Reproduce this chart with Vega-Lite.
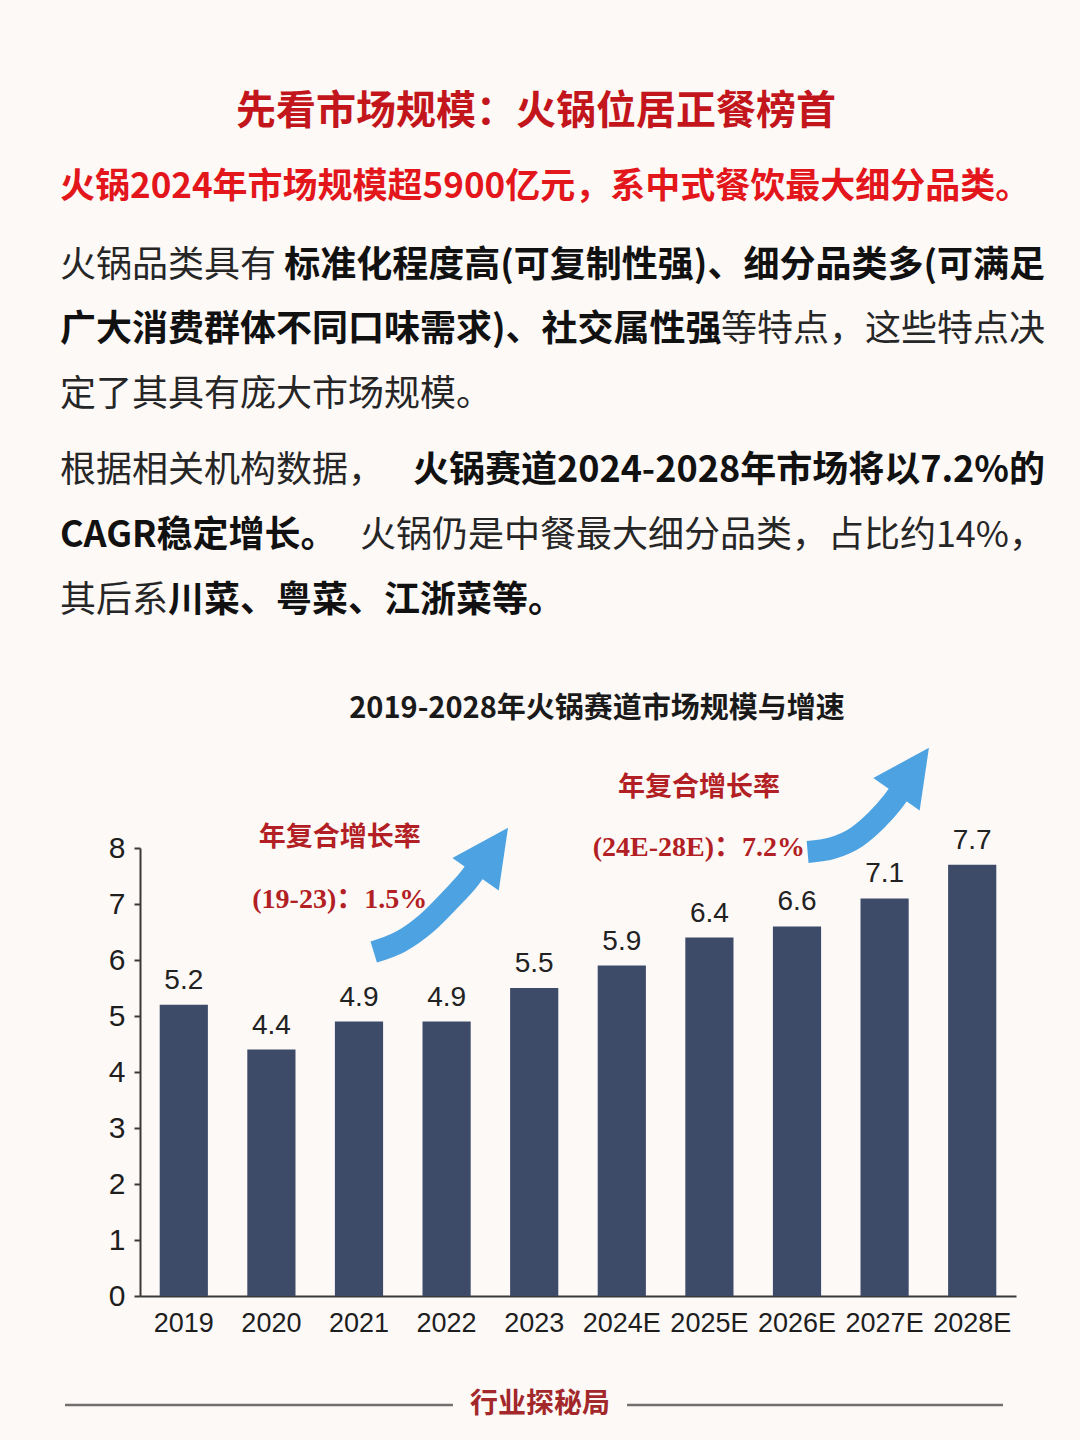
{
  "$schema": "https://vega.github.io/schema/vega-lite/v6.json",
  "padding": 0,
  "background": "#fdf9f7",
  "bounds": "flush",
  "spacing": 0,
  "config": {"view": {"stroke": null}, "axis": {"grid": false}},
  "datasets": {
    "copy": [
      {"block": "head", "line": 1, "part": "center", "emphasis": "strong", "text": "先看市场规模：火锅位居正餐榜首"},
      {"block": "head", "line": 2, "part": "start", "emphasis": "strong", "text": "火锅2024年市场规模超5900亿元，系中式餐饮最大细分品类。"},
      {"block": "p1", "line": 1, "part": "start", "emphasis": "plain", "text": "火锅品类具有"},
      {"block": "p1", "line": 1, "part": "end", "emphasis": "strong", "text": "标准化程度高(可复制性强)、细分品类多(可满足"},
      {"block": "p1", "line": 2, "part": "start", "emphasis": "strong", "text": "广大消费群体不同口味需求)、社交属性强"},
      {"block": "p1", "line": 2, "part": "end", "emphasis": "plain", "text": "等特点，这些特点决"},
      {"block": "p1", "line": 3, "part": "start", "emphasis": "plain", "text": "定了其具有庞大市场规模。"},
      {"block": "p2", "line": 1, "part": "start", "emphasis": "plain", "text": "根据相关机构数据，"},
      {"block": "p2", "line": 1, "part": "end", "emphasis": "strong", "text": "火锅赛道2024-2028年市场将以7.2%的"},
      {"block": "p2", "line": 2, "part": "start", "emphasis": "strong", "text": "CAGR稳定增长。"},
      {"block": "p2", "line": 2, "part": "end", "emphasis": "plain", "text": "火锅仍是中餐最大细分品类，占比约14%，"},
      {"block": "p2", "line": 3, "part": "start", "emphasis": "plain", "text": "其后系"},
      {"block": "p2", "line": 3, "part": "start", "emphasis": "strong", "follows": true, "text": "川菜、粤菜、江浙菜等。"}
    ],
    "market": [
      {"year": "2019", "size": 5.2},
      {"year": "2020", "size": 4.4},
      {"year": "2021", "size": 4.9},
      {"year": "2022", "size": 4.9},
      {"year": "2023", "size": 5.5},
      {"year": "2024E", "size": 5.9},
      {"year": "2025E", "size": 6.4},
      {"year": "2026E", "size": 6.6},
      {"year": "2027E", "size": 7.1},
      {"year": "2028E", "size": 7.7}
    ],
    "notes": [
      {"period": "19-23", "row": "title", "text": "年复合增长率", "pos": 2.28, "size": 8.18},
      {"period": "19-23", "row": "rate", "text": "(19-23)：1.5%", "pos": 2.28, "size": 7.07},
      {"period": "24E-28E", "row": "title", "text": "年复合增长率", "pos": 6.38, "size": 9.07},
      {"period": "24E-28E", "row": "rate", "text": "(24E-28E)：7.2%", "pos": 6.38, "size": 8.0}
    ],
    "arrows": [
      {"period": "19-23", "step": 1, "pos": 2.668, "size": 6.143},
      {"period": "19-23", "step": 2, "pos": 2.966, "size": 6.321},
      {"period": "19-23", "step": 3, "pos": 3.274, "size": 6.661},
      {"period": "19-23", "step": 4, "pos": 3.537, "size": 7.071},
      {"period": "19-23", "step": 5, "pos": 3.765, "size": 7.464},
      {"period": "19-23", "step": 6, "pos": 3.879, "size": 7.714},
      {"period": "24E-28E", "step": 1, "pos": 7.621, "size": 7.929},
      {"period": "24E-28E", "step": 2, "pos": 7.906, "size": 8.0},
      {"period": "24E-28E", "step": 3, "pos": 8.18, "size": 8.196},
      {"period": "24E-28E", "step": 4, "pos": 8.408, "size": 8.5},
      {"period": "24E-28E", "step": 5, "pos": 8.591, "size": 8.821},
      {"period": "24E-28E", "step": 6, "pos": 8.706, "size": 9.071}
    ],
    "heads": [
      {"period": "19-23", "pos": 4.016, "size": 7.946},
      {"period": "24E-28E", "pos": 8.821, "size": 9.375}
    ],
    "footer": [{"brand": "行业探秘局"}]
  },
  "vconcat": [
    {
      "width": 1080,
      "height": 224,
      "data": {"name": "copy"},
      "transform": [{"filter": "datum.block === 'head'"}],
      "encoding": {
        "y": {"field": "line", "type": "ordinal", "axis": null, "scale": {"type": "point", "padding": 0.9933, "align": 0.7517}},
        "text": {"field": "text"}
      },
      "layer": [
        {
          "transform": [{"filter": "datum.part === 'center'"}],
          "mark": {"type": "text", "font": "Noto Sans CJK SC", "fontSize": 40, "fontWeight": "bold", "color": "#c3161c", "align": "center", "baseline": "middle", "dx": -4}
        },
        {
          "transform": [{"filter": "datum.part === 'start'"}],
          "mark": {"type": "text", "font": "Noto Sans CJK SC", "fontSize": 35, "fontWeight": "bold", "color": "#e3161b", "align": "left", "baseline": "middle"},
          "encoding": {"x": {"field": "part", "type": "nominal", "axis": null, "scale": {"type": "point", "padding": 0, "domain": ["start", "end"], "range": [60, 1045]}}}
        }
      ]
    },
    {
      "width": 1080,
      "height": 206,
      "data": {"name": "copy"},
      "transform": [{"filter": "datum.block === 'p1'"}],
      "encoding": {
        "y": {"field": "line", "type": "ordinal", "axis": null, "scale": {"type": "point", "padding": 0.5969, "align": 0.545}},
        "x": {"field": "part", "type": "nominal", "axis": null, "scale": {"type": "point", "padding": 0, "domain": ["start", "end"], "range": [60, 1045]}},
        "text": {"field": "text"}
      },
      "layer": [
        {"transform": [{"filter": "datum.part === 'start' && datum.emphasis === 'plain'"}], "mark": {"type": "text", "font": "Noto Sans CJK SC", "fontSize": 36, "color": "#262626", "align": "left", "baseline": "middle"}},
        {"transform": [{"filter": "datum.part === 'start' && datum.emphasis === 'strong' && !datum.follows"}], "mark": {"type": "text", "font": "Noto Sans CJK SC", "fontSize": 36, "fontWeight": "bold", "color": "#111111", "align": "left", "baseline": "middle"}},
        {"transform": [{"filter": "datum.part === 'end' && datum.emphasis === 'plain'"}], "mark": {"type": "text", "font": "Noto Sans CJK SC", "fontSize": 36, "color": "#262626", "align": "right", "baseline": "middle"}},
        {"transform": [{"filter": "datum.part === 'end' && datum.emphasis === 'strong'"}], "mark": {"type": "text", "font": "Noto Sans CJK SC", "fontSize": 36, "fontWeight": "bold", "color": "#111111", "align": "right", "baseline": "middle"}}
      ]
    },
    {
      "width": 1080,
      "height": 260,
      "data": {"name": "copy"},
      "transform": [{"filter": "datum.block === 'p2'"}],
      "encoding": {
        "y": {"field": "line", "type": "ordinal", "axis": null, "scale": {"type": "point", "padding": 1, "align": 0.3154}},
        "x": {"field": "part", "type": "nominal", "axis": null, "scale": {"type": "point", "padding": 0, "domain": ["start", "end"], "range": [60, 1045]}},
        "text": {"field": "text"}
      },
      "layer": [
        {"transform": [{"filter": "datum.part === 'start' && datum.emphasis === 'plain'"}], "mark": {"type": "text", "font": "Noto Sans CJK SC", "fontSize": 36, "color": "#262626", "align": "left", "baseline": "middle"}},
        {"transform": [{"filter": "datum.part === 'start' && datum.emphasis === 'strong' && !datum.follows"}], "mark": {"type": "text", "font": "Noto Sans CJK SC", "fontSize": 36, "fontWeight": "bold", "color": "#111111", "align": "left", "baseline": "middle"}},
        {"transform": [{"filter": "datum.follows === true"}], "mark": {"type": "text", "font": "Noto Sans CJK SC", "fontSize": 36, "fontWeight": "bold", "color": "#111111", "align": "left", "baseline": "middle", "dx": 108}},
        {"transform": [{"filter": "datum.part === 'end' && datum.emphasis === 'plain'"}], "mark": {"type": "text", "font": "Noto Sans CJK SC", "fontSize": 36, "color": "#262626", "align": "right", "baseline": "middle"}},
        {"transform": [{"filter": "datum.part === 'end' && datum.emphasis === 'strong'"}], "mark": {"type": "text", "font": "Noto Sans CJK SC", "fontSize": 36, "fontWeight": "bold", "color": "#111111", "align": "right", "baseline": "middle"}}
      ]
    },
    {
      "width": 1080,
      "height": 158,
      "data": {"values": []},
      "mark": "point"
    },
    {
      "width": 1080,
      "height": 448,
      "title": {"text": "2019-2028年火锅赛道市场规模与增速", "font": "Noto Sans CJK SC", "fontSize": 29, "fontWeight": "bold", "color": "#1a1a1a", "anchor": "middle", "frame": "group", "dx": 57, "offset": 20},
      "encoding": {
        "y": {"field": "size", "type": "quantitative", "title": null,
              "scale": {"domain": [0, 8], "nice": false, "zero": true},
              "axis": {"offset": -140, "values": [0, 1, 2, 3, 4, 5, 6, 7, 8], "domainColor": "#3a3a3a", "domainWidth": 2, "tickColor": "#3a3a3a", "tickWidth": 2, "tickSize": 6, "labelPadding": 9, "labelFont": "Liberation Sans", "labelFontSize": 30, "labelColor": "#1e1e1e", "grid": false}}
      },
      "resolve": {"scale": {"x": "independent"}},
      "layer": [
        {
          "data": {"name": "market"},
          "encoding": {
            "x": {"field": "year", "type": "ordinal", "sort": null, "title": null,
                  "scale": {"type": "band", "range": [140, 1016], "paddingInner": 0.45, "paddingOuter": 0.225},
                  "axis": {"domainColor": "#3a3a3a", "domainWidth": 2, "ticks": false, "labelAngle": 0, "labelFont": "Liberation Sans", "labelFontSize": 27, "labelColor": "#1e1e1e", "labelPadding": 14}}
          },
          "layer": [
            {"mark": {"type": "bar", "color": "#3d4b69"}},
            {
              "mark": {"type": "text", "font": "Liberation Sans", "fontSize": 28, "color": "#222222", "baseline": "bottom", "dy": -10},
              "encoding": {"text": {"field": "size", "type": "quantitative", "format": ".1f"}}
            }
          ]
        },
        {
          "encoding": {
            "x": {"field": "pos", "type": "quantitative", "axis": null, "scale": {"domain": [0, 10], "range": [140, 1016], "nice": false, "zero": false}}
          },
          "layer": [
            {
              "data": {"name": "arrows"},
              "mark": {"type": "line", "color": "#4da3e2", "strokeWidth": 22, "interpolate": "monotone", "strokeCap": "butt"},
              "encoding": {"detail": {"field": "period"}, "order": {"field": "step"}}
            },
            {
              "data": {"name": "heads"},
              "mark": {"type": "point", "shape": "M-1,1L0,-1L1,1Z", "size": 3200, "angle": 35, "filled": true, "color": "#4da3e2", "opacity": 1, "strokeWidth": 0}
            },
            {
              "data": {"name": "notes"},
              "transform": [{"filter": "datum.row === 'title'"}],
              "mark": {"type": "text", "font": "Liberation Serif, Noto Sans CJK SC, serif", "fontSize": 27, "fontWeight": "bold", "color": "#b21f24", "align": "center", "baseline": "middle"},
              "encoding": {"text": {"field": "text"}}
            },
            {
              "data": {"name": "notes"},
              "transform": [{"filter": "datum.row === 'rate'"}],
              "mark": {"type": "text", "font": "Liberation Serif, Noto Sans CJK SC, serif", "fontSize": 28, "fontWeight": "bold", "color": "#b21f24", "align": "center", "baseline": "middle"},
              "encoding": {"text": {"field": "text"}}
            }
          ]
        }
      ]
    },
    {
      "width": 1080,
      "height": 144,
      "data": {"name": "footer"},
      "encoding": {
        "y": {"field": "brand", "type": "nominal", "axis": null, "scale": {"type": "point", "align": 0.757}}
      },
      "layer": [
        {
          "mark": {"type": "rule", "color": "#707070", "strokeWidth": 2.5},
          "encoding": {
            "x": {"datum": 0.0602, "type": "quantitative", "axis": null, "scale": {"domain": [0, 1], "nice": false, "zero": false}},
            "x2": {"datum": 0.4194}
          }
        },
        {
          "mark": {"type": "rule", "color": "#707070", "strokeWidth": 2.5},
          "encoding": {
            "x": {"datum": 0.5806, "type": "quantitative", "axis": null},
            "x2": {"datum": 0.9287}
          }
        },
        {
          "mark": {"type": "text", "font": "Noto Sans CJK SC", "fontSize": 28, "fontWeight": "bold", "color": "#a3282b", "align": "center", "baseline": "middle"},
          "encoding": {"text": {"field": "brand"}}
        }
      ]
    }
  ]
}
